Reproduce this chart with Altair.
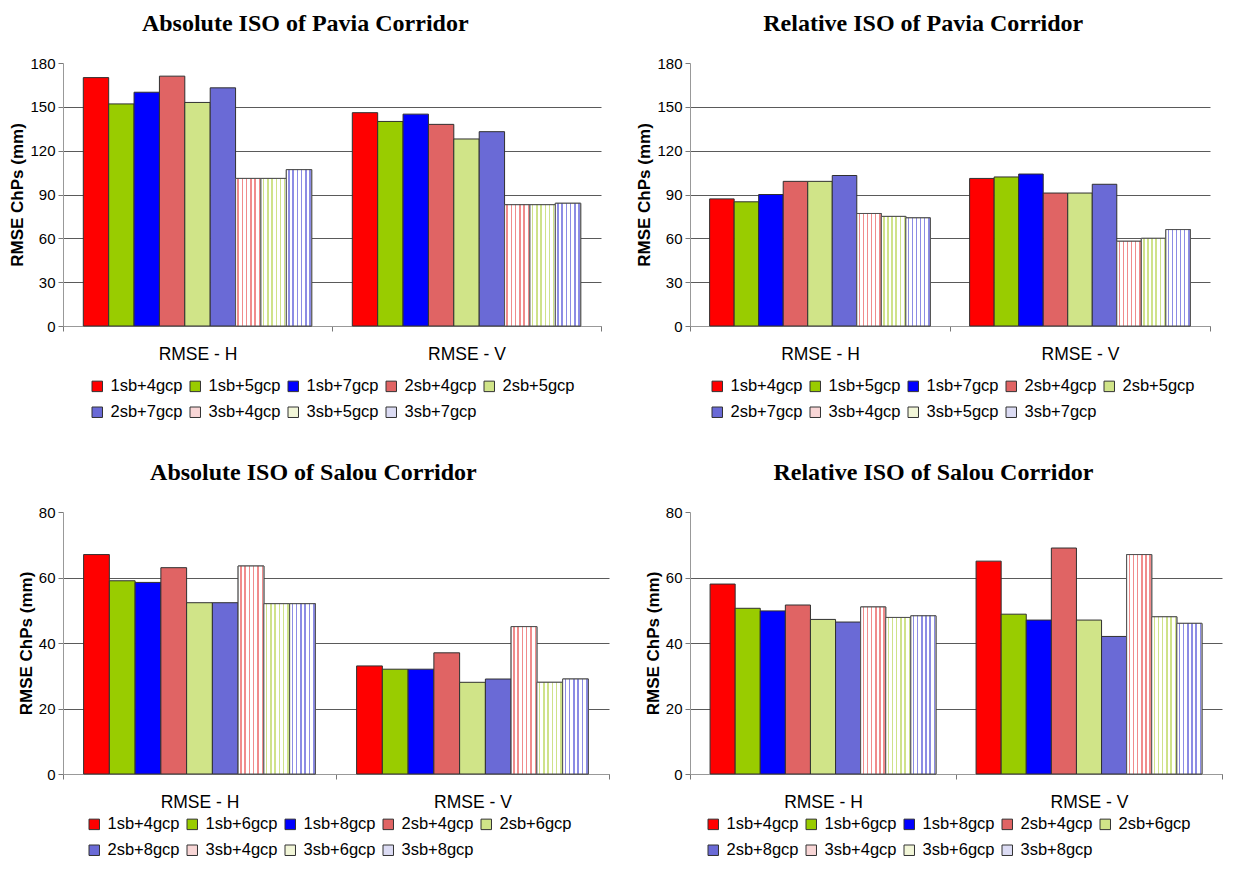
import altair as alt
import pandas as pd

groups = ["RMSE - H", "RMSE - V"]
series_pavia = ["1sb+4gcp", "1sb+5gcp", "1sb+7gcp", "2sb+4gcp", "2sb+5gcp",
                "2sb+7gcp", "3sb+4gcp", "3sb+5gcp", "3sb+7gcp"]
series_salou = ["1sb+4gcp", "1sb+6gcp", "1sb+8gcp", "2sb+4gcp", "2sb+6gcp",
                "2sb+8gcp", "3sb+4gcp", "3sb+6gcp", "3sb+8gcp"]

abs_pavia_h = [170, 152, 160, 171, 153, 163, 101, 101, 107]
abs_pavia_v = [146, 140, 145, 138, 128, 133, 83, 83, 84]
rel_pavia_h = [87, 85, 90, 99, 99, 103, 77, 75, 74]
rel_pavia_v = [101, 102, 104, 91, 91, 97, 58, 60, 66]
abs_salou_h = [67, 59, 58.5, 63, 52.3, 52.3, 63.5, 52, 52]
abs_salou_v = [33, 32, 32, 37, 28, 29, 45, 28, 29]
rel_salou_h = [58, 50.6, 49.8, 51.6, 47.2, 46.4, 51, 47.8, 48.3]
rel_salou_v = [65, 48.8, 47, 69, 47, 42, 67, 48, 46]

fills = ["#FF0000", "#99CC00", "#0000FF", "#E06464", "#D0E488", "#6A6AD6",
         "#F8D6D6", "#F2F6D8", "#DCDCF4"]
stripe_colors = ["#F08C8C", "#CFE28A", "#8C8CE4"]

SANS = "Liberation Sans"


def stripes(color, n=6):
    stops = []
    for i in range(n):
        a = i / n
        b = (i + 0.45) / n
        c = (i + 0.8) / n
        d = (i + 1) / n
        stops += [
            {"offset": a, "color": "#FFFFFF"},
            {"offset": b, "color": "#FFFFFF"},
            {"offset": b, "color": color},
            {"offset": c, "color": color},
            {"offset": c, "color": "#FFFFFF"},
            {"offset": d, "color": "#FFFFFF"},
        ]
    return alt.Gradient(gradient="linear", stops=stops, x1=0, x2=1, y1=0, y2=0)


def panel(title, series, h, v, ymax, step, w, ht, lx, ly):
    df = pd.DataFrame({
        "group": [g for g in groups for _ in series],
        "series": series * 2,
        "value": h + v,
    })
    xenc = alt.X("group:N", sort=groups,
                 scale=alt.Scale(domain=groups, paddingInner=0, paddingOuter=0),
                 axis=alt.Axis(title=None, labelAngle=0, labelFontSize=17.5,
                               labelFont=SANS, labelColor="#000", labelPadding=14,
                               tickBand="extent", tickSize=5, tickColor="#777",
                               domainColor="#999", grid=False))
    oenc = alt.XOffset("series:N", sort=series,
                       scale=alt.Scale(domain=series, paddingInner=0, paddingOuter=0.8))
    yenc = alt.Y("value:Q", scale=alt.Scale(domain=[0, ymax], nice=False),
                 axis=alt.Axis(title="RMSE ChPs (mm)", values=list(range(0, ymax + 1, step)),
                               labelFontSize=15, labelFont=SANS, labelColor="#000",
                               labelPadding=3,
                               titleFont=SANS, titleFontSize=17, titleFontWeight="bold",
                               titleColor="#000", titlePadding=3,
                               tickSize=5, tickColor="#777", domainColor="#999",
                               gridColor="#5a5a5a",
                               gridOpacity={"condition": {"test": f"datum.value >= {ymax}", "value": 0},
                                            "value": 1}))
    base = alt.Chart(df)
    bars = base.mark_bar(stroke="#303030", strokeWidth=1).encode(
        x=xenc, xOffset=oenc, y=yenc,
        color=alt.Color("series:N", sort=series,
                        scale=alt.Scale(domain=series, range=fills),
                        legend=alt.Legend(title=None, orient="none", legendX=lx,
                                          legendY=ht + ly, direction="horizontal",
                                          columns=5, symbolType="square", symbolSize=110,
                                          symbolStrokeColor="#333", symbolStrokeWidth=1,
                                          labelFontSize=16.5, labelFont=SANS,
                                          labelColor="#000", columnPadding=4,
                                          rowPadding=9, labelOffset=5)),
    )
    layers = [bars]
    for s, c in zip(series[6:], stripe_colors):
        layers.append(
            base.transform_filter(alt.datum.series == s)
            .mark_bar(fill=stripes(c), stroke="#505050", strokeWidth=1)
            .encode(x=xenc, xOffset=oenc, y=yenc)
        )
    return alt.layer(*layers).properties(
        width=w, height=ht,
        title=alt.Title(title, font="Liberation Serif", fontSize=24, fontWeight="bold",
                        color="#000", anchor="middle", frame="bounds", offset=20),
    )


tl = panel("Absolute ISO of Pavia Corridor", series_pavia, abs_pavia_h, abs_pavia_v,
           180, 30, 538, 263, 26, 52)
tr = panel("Relative ISO of Pavia Corridor", series_pavia, rel_pavia_h, rel_pavia_v,
           180, 30, 520, 263, 19, 52)
bl = panel("Absolute ISO of Salou Corridor", series_salou, abs_salou_h, abs_salou_v,
           80, 20, 546, 262, 23, 42)
br = panel("Relative ISO of Salou Corridor", series_salou, rel_salou_h, rel_salou_v,
           80, 20, 532, 262, 15, 42)

chart = alt.concat(
    tl, tr, bl, br,
    columns=2,
    spacing={"row": 40, "column": 25},
).resolve_scale(
    x="independent", y="independent", xOffset="independent", color="independent"
).properties(
    padding={"left": 0, "top": 4, "right": 0, "bottom": 0}
).configure_view(stroke=None)

chart.save("out.html", embed_options={"renderer": "svg", "actions": False})
